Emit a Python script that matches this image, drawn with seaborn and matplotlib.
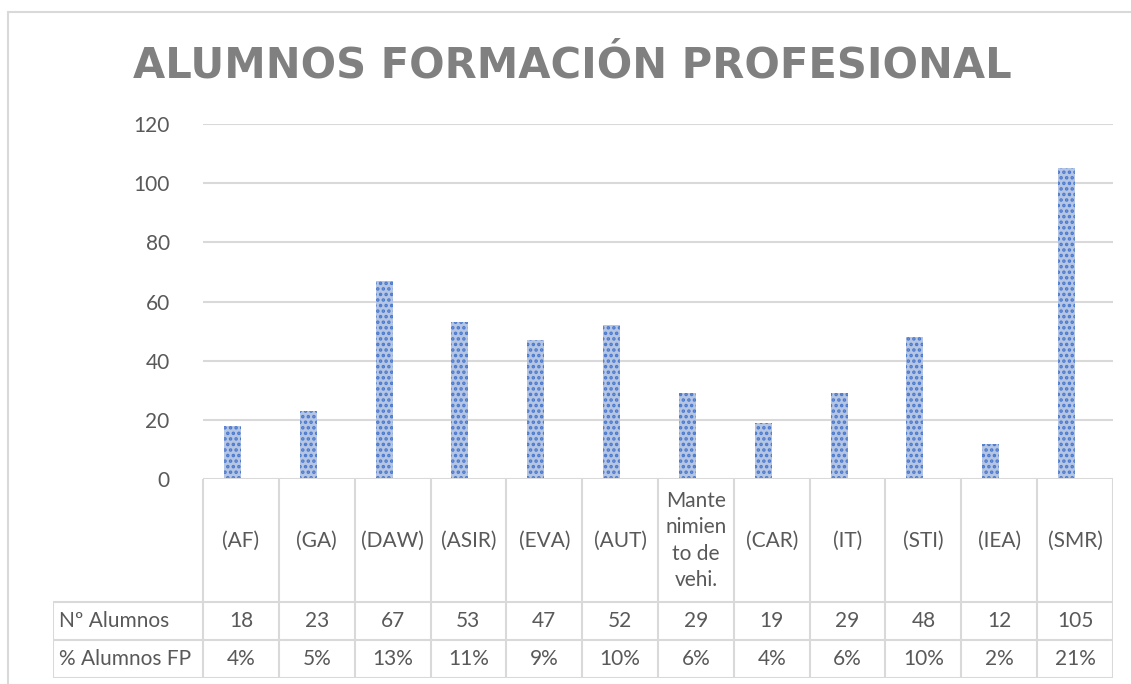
import matplotlib
matplotlib.use("Agg")
import matplotlib.pyplot as plt
import seaborn as sns
import pandas as pd
from matplotlib.lines import Line2D

categories = ["(AF)", "(GA)", "(DAW)", "(ASIR)", "(EVA)", "(AUT)",
              "Mante\nnimien\nto de\nvehi.", "(CAR)", "(IT)", "(STI)", "(IEA)", "(SMR)"]
alumnos = [18, 23, 67, 53, 47, 52, 29, 19, 29, 48, 12, 105]
porcentaje = [0.04, 0.05, 0.13, 0.11, 0.09, 0.10, 0.06, 0.04, 0.06, 0.10, 0.02, 0.21]
series = ["Nº Alumnos", "% Alumnos FP"]
yticks = [0, 20, 40, 60, 80, 100, 120]

df = pd.DataFrame({
    "cat": categories * 2,
    "valor": alumnos + porcentaje,
    "serie": [series[0]] * len(categories) + [series[1]] * len(categories),
})

sns.set_theme(style="white")
plt.rcParams["font.family"] = ["Lato", "DejaVu Sans"]
plt.rcParams["hatch.linewidth"] = 1.7
txt = "#595959"
grid = "#d9d9d9"
fs = 15

W, H = 1131, 684
fig = plt.figure(figsize=(W / 100, H / 100), dpi=100)

# plot area in pixels
px_l, px_r, px_t, px_b = 203, 1113, 124, 479
ax = fig.add_axes([px_l / W, 1 - px_b / H, (px_r - px_l) / W, (px_b - px_t) / H])
sns.barplot(data=df, x="cat", y="valor", hue="serie", hue_order=series,
            palette=["#adc3ec", "#adc3ec"], width=0.45, ax=ax, legend=False)
for p in ax.patches:
    p.set_hatch("...")
    p.set_edgecolor("#4a78cc")
    p.set_linewidth(0)
ax.set_xlim(-0.5, len(categories) - 0.5)
ax.set_ylim(0, 120)
ax.set_yticks(yticks)
ax.set_yticklabels([str(v) for v in yticks], color=txt, fontsize=fs)
ax.tick_params(axis="y", length=0, pad=24)
ax.set_xticks([])
ax.set_xlabel("")
ax.set_ylabel("")
for s in ax.spines.values():
    s.set_visible(False)
for v in yticks[1:]:
    ax.axhline(v, color=grid, lw=1.5, zorder=0)
ax.axhline(0, color=grid, lw=1.5, zorder=3)

# data table
col_w = (px_r - px_l) / len(categories)
lab_l = 53
tb_b = 678
r1, r2 = 602, 640
tax = fig.add_axes([lab_l / W, 1 - tb_b / H, (px_r - lab_l) / W, (tb_b - px_b) / H])
lab_units = (px_l - lab_l) / col_w
tax.set_xlim(-0.5 - lab_units, len(categories) - 0.5)
tax.set_ylim(tb_b - px_b, 0)
tax.axis("off")
y1, y2, y3 = r1 - px_b, r2 - px_b, tb_b - px_b
n = len(categories)
kw = dict(color=grid, lw=1.5, solid_capstyle="butt")
for i in range(n + 1):
    tax.plot([i - 0.5, i - 0.5], [0, y3], **kw)
tax.plot([-0.5 - lab_units] * 2, [y1, y3], **kw)
for y in (y1, y2, y3):
    tax.plot([-0.5 - lab_units, n - 0.5], [y, y], **kw)
for i, c in enumerate(categories):
    tax.text(i, y1 / 2, c, ha="center", va="center", color=txt, fontsize=fs,
             linespacing=1.4)
    tax.text(i, (y1 + y2) / 2, str(alumnos[i]), ha="center", va="center",
             color=txt, fontsize=fs)
    tax.text(i, (y2 + y3) / 2, f"{porcentaje[i]:.0%}", ha="center",
             va="center", color=txt, fontsize=fs)
tax.text(-0.5 - lab_units + 0.08, (y1 + y2) / 2, series[0], ha="left",
         va="center", color=txt, fontsize=fs)
tax.text(-0.5 - lab_units + 0.08, (y2 + y3) / 2, series[1], ha="left",
         va="center", color=txt, fontsize=fs)

# chart border
fig.add_artist(Line2D([8 / W, 8 / W], [0, 1 - 12 / H], color=grid, lw=1.5))
fig.add_artist(Line2D([8 / W, 1], [1 - 12 / H, 1 - 12 / H], color=grid, lw=1.5))

fig.text(572 / W, 1 - 77 / H, "ALUMNOS FORMACIÓN PROFESIONAL", ha="center",
         va="baseline", fontsize=30, fontweight="bold", color="#808080",
         family=["DejaVu Sans"])

fig.savefig("out.png", dpi=100)
